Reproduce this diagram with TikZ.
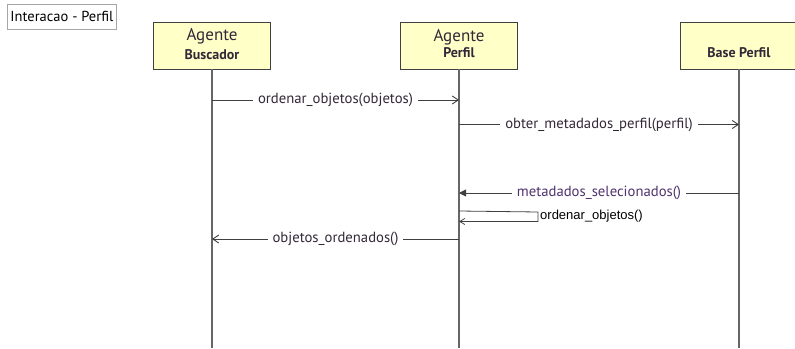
\documentclass[tikz,border=0pt]{standalone}
\usepackage{fontspec}
\setmainfont{PT Sans}
\newfontfamily\arialfont{Liberation Sans}
\usetikzlibrary{arrows.meta}
\definecolor{boxfill}{RGB}{255,255,200}
\definecolor{edge}{RGB}{64,64,64}
\definecolor{txt}{RGB}{50,40,55}
\definecolor{rettxt}{RGB}{80,50,110}
\tikzset{
  actor/.style={draw=edge, line width=0.9pt, fill=boxfill, minimum width=117pt, minimum height=47pt, inner sep=0pt, text=txt, align=center},
  lifeline/.style={draw=edge!80, line width=1.2pt},
  msg/.style={draw=edge, line width=0.9pt},
  callarrow/.style={msg, -{Straight Barb[length=6pt,width=8pt,line width=0.9pt]}},
  retarrow/.style={msg, -{Triangle[length=7pt,width=7pt]}},
  msglabel/.style={fill=white, inner xsep=5pt, inner ysep=1pt, text=txt, font=\fontsize{14.7pt}{16pt}\selectfont},
  big/.style={font=\fontsize{17pt}{18pt}\selectfont},
  small/.style={font=\bfseries\fontsize{14pt}{15pt}\selectfont},
}
\begin{document}
\begin{tikzpicture}[x=1pt, y=-1pt]
\useasboundingbox (0,0) rectangle (795,348);

% frame title
\node[draw=gray!70, line width=0.8pt, minimum width=109pt, minimum height=25pt, inner sep=0pt, anchor=north west, text=black,
      font=\fontsize{14.5pt}{15pt}\selectfont] (title) at (7,4) {Interacao - Perfil};

% participants
\node[actor] (busc) at (212,45.5) {};
\node[big, text=txt] (buscA) at (212,36.5) {Agente};
\node[small, text=txt] (buscB) at (212,54.5) {Buscador};

\node[actor] (perf) at (459,45.5) {};
\node[big, text=txt] (perfA) at (459,37.5) {Agente};
\node[small, text=txt] (perfB) at (459,53) {Perfil};

\node[actor] (base) at (739,45.5) {};
\node[small, text=txt] (baseB) at (739,53) {Base Perfil};

% lifelines
\coordinate (buscEnd) at (212,348);
\coordinate (perfEnd) at (459,348);
\coordinate (baseEnd) at (739,348);
\draw[lifeline] (busc.south) -- (buscEnd);
\draw[lifeline] (perf.south) -- (perfEnd);
\draw[lifeline] (base.south) -- (baseEnd);

% message anchor points on the lifelines
\coordinate (m1s) at (212,100);
\coordinate (m1e) at (459,100);
\coordinate (m2s) at (459,124.5);
\coordinate (m2e) at (739,124.5);
\coordinate (m3s) at (739,193);
\coordinate (m3e) at (459,193);
\coordinate (m4s) at (459,211);
\coordinate (m4a) at (538,212);
\coordinate (m4b) at (538,221.5);
\coordinate (m4e) at (459,221.5);
\coordinate (m5s) at (459,239);
\coordinate (m5e) at (212,239);

% messages
\draw[callarrow] (m1s) -- node[msglabel] (l1) {ordenar\_objetos(objetos)} (m1e);
\draw[callarrow] (m2s) -- node[msglabel] (l2) {obter\_metadados\_perfil(perfil)} (m2e);
\draw[retarrow] (m3s) -- node[msglabel, text=rettxt] (l3) {metadados\_selecionados()} (m3e);
\draw[msg, line width=0.8pt, -{Straight Barb[length=5pt,width=6pt,line width=0.8pt]}] (m4s) -- (m4a) -- (m4b) -- (m4e);
\node[anchor=west, inner sep=0pt, text=black, font=\arialfont\fontsize{13pt}{14pt}\selectfont] (l4) at (540,216.5) {ordenar\_objetos()};
\draw[callarrow] (m5s) -- node[msglabel] (l5) {objetos\_ordenados()} (m5e);
\end{tikzpicture}
\end{document}
